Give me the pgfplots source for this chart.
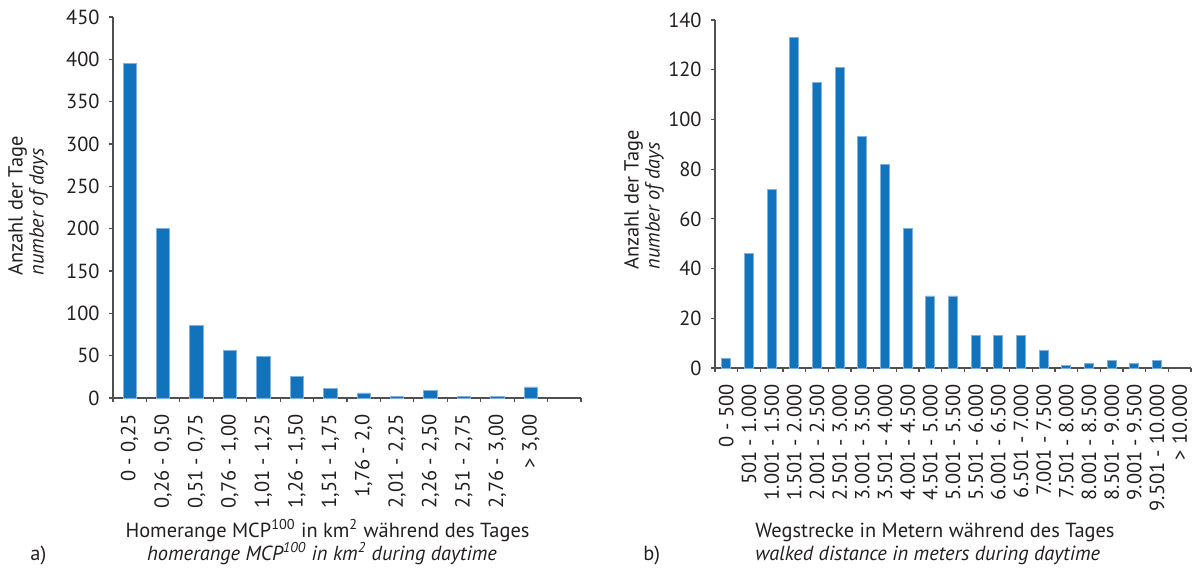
\documentclass[border=0pt]{standalone}
\usepackage{pgfplots}
\pgfplotsset{compat=1.18}
\usepackage{fontspec}
\setmainfont{PT Sans}

\definecolor{barblue}{RGB}{17,115,188}
\definecolor{baredge}{RGB}{128,178,224}
\definecolor{txt}{RGB}{35,31,32}
\definecolor{axisgray}{RGB}{80,80,80}

\pgfplotsset{
  histo/.style={
    scale only axis,
    axis x line=bottom, axis y line=left,
    axis line style={draw=axisgray, line width=0.6pt, -},
    ymin=0, xmin=-0.5,
    ybar, bar width=0.4,
    tick align=outside,
    major tick length=2pt,
    minor tick length=2pt,
    tick style={draw=axisgray, line width=0.6pt},
    major x tick style={draw=none},
    /pgf/number format/assume math mode=true,
    ticklabel style={text=txt, inner sep=0pt},
    yticklabel style={anchor=east},
    yticklabel shift=4.5pt,
    xticklabel style={rotate=90, anchor=east},
    xticklabel shift=6pt,
    clip=false,
  },
}

\begin{document}
\fontsize{10.2}{11.5}\selectfont
\begin{tikzpicture}[x=1pt, y=1pt, every node/.style={text=txt}]
\path[use as bounding box] (0,0) rectangle (599.5,284.5);

% a) home range size per day
\begin{axis}[histo,
  at={(56.5pt,85.5pt)}, anchor=south west,
  width=234pt, height=190.5pt,
  xmax=13.5, ymax=450,
  ytick={0,50,...,450},
  xtick={0,...,12},
  xticklabels={{0 - 0,25},{0,26 - 0,50},{0,51 - 0,75},{0,76 - 1,00},
    {1,01 - 1,25},{1,26 - 1,50},{1,51 - 1,75},{1,76 - 2,0},{2,01 - 2,25},
    {2,26 - 2,50},{2,51 - 2,75},{2,76 - 3,00},{> 3,00}},
  minor xtick={-0.5,0.5,...,13.5},
]
\addplot[fill=barblue, draw=baredge, line width=0.4pt] coordinates {
  (0,395) (1,200) (2,86) (3,56) (4,49) (5,25) (6,11)
  (7,6) (8,2) (9,9) (10,2) (11,2) (12,13)
};
\end{axis}

% b) walked distance per day
\begin{axis}[histo,
  at={(357.5pt,100.5pt)}, anchor=south west,
  width=238pt, height=174pt,
  xmax=20.5, ymax=140,
  ytick={0,20,...,140},
  xtick={0,...,20},
  xticklabels={{0 - 500},{501 - 1.000},{1.001 - 1.500},{1.501 - 2.000},
    {2.001 - 2.500},{2.501 - 3.000},{3.001 - 3.500},{3.501 - 4.000},
    {4.001 - 4.500},{4.501 - 5.000},{5.001 - 5.500},{5.501 - 6.000},
    {6.001 - 6.500},{6.501 - 7.000},{7.001 - 7.500},{7.501 - 8.000},
    {8.001 - 8.500},{8.501 - 9.000},{9.001 - 9.500},{9.501 - 10.000},
    {> 10.000}},
  minor xtick={-0.5,0.5,...,20.5},
]
\addplot[fill=barblue, draw=baredge, line width=0.4pt] coordinates {
  (0,4) (1,46) (2,72) (3,133) (4,115) (5,121) (6,93) (7,82)
  (8,56) (9,29) (10,29) (11,13) (12,13) (13,13) (14,7) (15,1)
  (16,2) (17,3) (18,2) (19,3)
};
\end{axis}

% axis titles
\node[rotate=90, align=left, font=\fontsize{10.2}{10.5}\selectfont] at (14,181.5)
  {Anzahl der Tage\\\textit{number of days}};
\node[rotate=90, align=left, font=\fontsize{10.2}{10.5}\selectfont] at (322,184.5)
  {Anzahl der Tage\\\textit{number of days}};

\node[anchor=base] at (163.75,16)
  {Homerange MCP\textsuperscript{100} in km\textsuperscript{2} während des Tages};
\node[anchor=base] at (161,4.5)
  {\itshape homerange MCP\textsuperscript{100} in km\textsuperscript{2} during daytime};
\node[anchor=base west, inner sep=0pt] at (15,4.5) {a)};

\node[anchor=base west, inner sep=0pt] at (377.5,16)
  {Wegstrecke in Metern während des Tages};
\node[anchor=base west, inner sep=0pt] at (377.5,4.5)
  {\itshape walked distance in meters during daytime};
\node[anchor=base west, inner sep=0pt] at (321.5,4.5) {b)};
\end{tikzpicture}
\end{document}
